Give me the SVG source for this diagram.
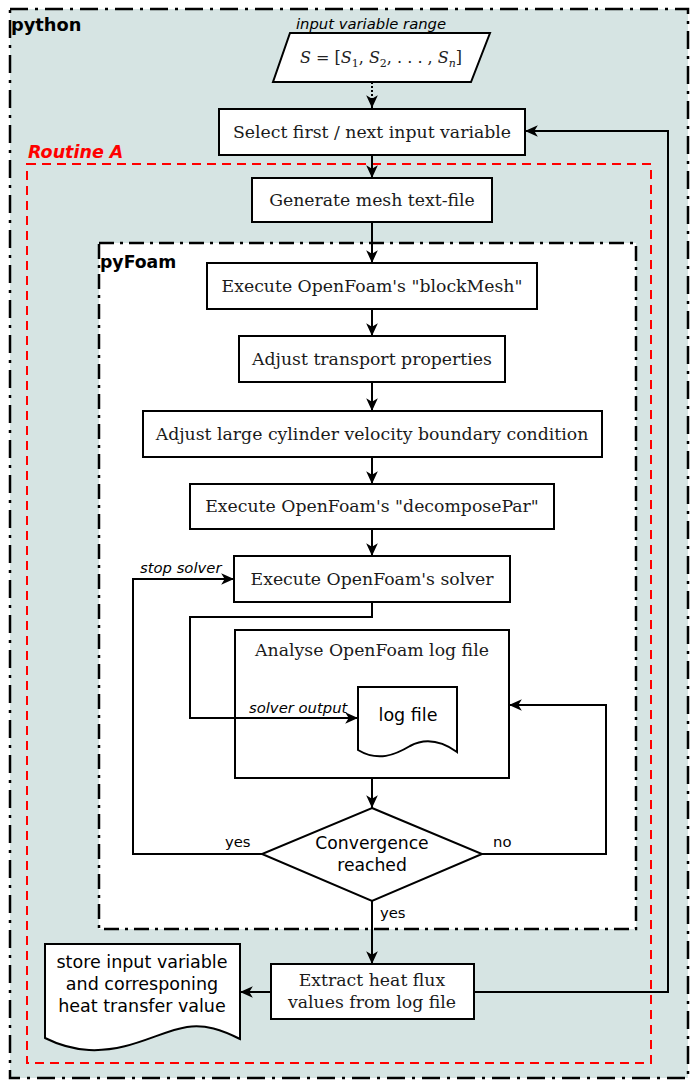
<svg xmlns="http://www.w3.org/2000/svg" width="693" height="1080" viewBox="0 0 693 1080">
<defs>
<marker id="arr" markerUnits="userSpaceOnUse" markerWidth="14" markerHeight="14" viewBox="0 0 12 12" refX="11" refY="6" orient="auto">
<path d="M0,1 L11,6 L0,11 L3,6 Z" fill="#000"/>
</marker>
<style>
.box{fill:#fff;stroke:#000;stroke-width:2}
.ln{fill:none;stroke:#000;stroke-width:2}
.sf{font-family:"DejaVu Serif",serif;font-size:17.3px;fill:#1a1a1a;text-anchor:middle}
.ss{font-family:"DejaVu Sans",sans-serif;font-size:17.5px;fill:#000;text-anchor:middle}
.lbl{font-family:"DejaVu Sans",sans-serif;font-size:14.8px;fill:#000}
.it{font-style:italic}
.grp{font-family:"DejaVu Sans",sans-serif;font-size:17.5px;font-weight:bold}
</style>
</defs>
<g id="python">
<rect x="10" y="9" width="678" height="1069" fill="#d6e4e3" stroke="#000" stroke-width="2.5" stroke-dasharray="18 7 3 7"/>
<text x="11" y="31" class="grp" style="font-size:17.8px">python</text>
</g>
<g id="routineA">
<rect x="27" y="164" width="624" height="899" fill="none" stroke="#f00" stroke-width="2" stroke-dasharray="9 6"/>
<text x="28" y="158" class="grp" style="font-style:italic;fill:#f00">Routine A</text>
</g>
<g id="pyFoam">
<rect x="99" y="243" width="537" height="686" fill="#fff" stroke="#000" stroke-width="2.5" stroke-dasharray="15 6 3 6"/>
<text x="100" y="268" class="grp" style="font-size:17.3px">pyFoam</text>
</g>
<g id="input">
<text x="371" y="29" class="lbl it" text-anchor="middle">input variable range</text>
<polygon points="290,33 490,33 471,82 273,82" class="box"/>
<text x="381" y="63" style="font-family:'DejaVu Serif',serif;font-size:16px;fill:#222" text-anchor="middle"><tspan font-style="italic">S</tspan> = [<tspan font-style="italic">S</tspan><tspan font-size="11" dy="4">1</tspan><tspan dy="-4">, </tspan><tspan font-style="italic">S</tspan><tspan font-size="11" dy="4">2</tspan><tspan dy="-4">, . . . , </tspan><tspan font-style="italic">S</tspan><tspan font-size="11" font-style="italic" dy="4">n</tspan><tspan dy="-4">]</tspan></text>
</g>
<g id="select">
<rect x="219" y="109" width="306" height="46" class="box"/>
<text x="372" y="138" class="sf">Select first / next input variable</text>
</g>
<g id="mesh">
<rect x="252" y="178" width="240" height="44" class="box"/>
<text x="372" y="206" class="sf">Generate mesh text-file</text>
</g>
<g id="blockMesh">
<rect x="207" y="263" width="330" height="46" class="box"/>
<text x="372" y="292" class="sf">Execute OpenFoam's "blockMesh"</text>
</g>
<g id="transport">
<rect x="239" y="336" width="266" height="46" class="box"/>
<text x="372" y="365" class="sf">Adjust transport properties</text>
</g>
<g id="velocity">
<rect x="143" y="411" width="459" height="46" class="box"/>
<text x="372" y="440" class="sf">Adjust large cylinder velocity boundary condition</text>
</g>
<g id="decompose">
<rect x="190" y="484" width="364" height="45" class="box"/>
<text x="372" y="512" class="sf">Execute OpenFoam's "decomposePar"</text>
</g>
<g id="solver">
<rect x="234" y="556" width="276" height="46" class="box"/>
<text x="372" y="585" class="sf">Execute OpenFoam's solver</text>
</g>
<g id="analyse">
<rect x="235" y="630" width="274" height="148" class="box"/>
<text x="372" y="656" class="sf">Analyse OpenFoam log file</text>
</g>
<g id="logfile">
<path d="M358,687 H457 V752 C440,740 425,738 410,746 C395,755 378,762 358,750 Z" class="box"/>
<text x="408" y="721" class="ss">log file</text>
</g>
<g id="convergence">
<polygon points="372,808 482,854 372,901 262,854" class="box"/>
<text x="372" y="849" class="ss" style="font-size:17.2px">Convergence</text>
<text x="372" y="871" class="ss" style="font-size:17.2px">reached</text>
</g>
<g id="extract">
<rect x="271" y="964" width="203" height="55" class="box"/>
<text x="372" y="986" class="sf">Extract heat flux</text>
<text x="372" y="1008" class="sf">values from log file</text>
</g>
<g id="store">
<path d="M45,944 H240 V1039 C222,1030 205,1024 187,1027 C160,1031 130,1052 89,1050 C70,1049 55,1043 45,1038 Z" class="box"/>
<text x="142" y="968" class="ss">store input variable</text>
<text x="142" y="990" class="ss">and corresponing</text>
<text x="142" y="1012" class="ss">heat transfer value</text>
</g>
<g id="connectors">
<line x1="372" y1="82" x2="372" y2="108" class="ln" stroke-dasharray="2 2" marker-end="url(#arr)"/>
<line x1="372" y1="155" x2="372" y2="178" class="ln" marker-end="url(#arr)"/>
<line x1="372" y1="222" x2="372" y2="263" class="ln" marker-end="url(#arr)"/>
<line x1="372" y1="309" x2="372" y2="336" class="ln" marker-end="url(#arr)"/>
<line x1="372" y1="382" x2="372" y2="411" class="ln" marker-end="url(#arr)"/>
<line x1="372" y1="457" x2="372" y2="484" class="ln" marker-end="url(#arr)"/>
<line x1="372" y1="529" x2="372" y2="556" class="ln" marker-end="url(#arr)"/>
<polyline points="372,602 372,617 190,617 190,718 358,718" class="ln" marker-end="url(#arr)"/>
<line x1="372" y1="778" x2="372" y2="808" class="ln" marker-end="url(#arr)"/>
<polyline points="262,854 133,854 133,579 234,579" class="ln" marker-end="url(#arr)"/>
<polyline points="482,854 606,854 606,705 509,705" class="ln" marker-end="url(#arr)"/>
<line x1="372" y1="901" x2="372" y2="964" class="ln" marker-end="url(#arr)"/>
<line x1="271" y1="992" x2="240" y2="992" class="ln" marker-end="url(#arr)"/>
<polyline points="474,992 668,992 668,131 525,131" class="ln" marker-end="url(#arr)"/>
<text x="140" y="573" class="lbl it">stop solver</text>
<text x="249" y="713" class="lbl it">solver output</text>
<text x="225" y="847" class="lbl">yes</text>
<text x="493" y="847" class="lbl">no</text>
<text x="380" y="918" class="lbl">yes</text>
</g>
</svg>
